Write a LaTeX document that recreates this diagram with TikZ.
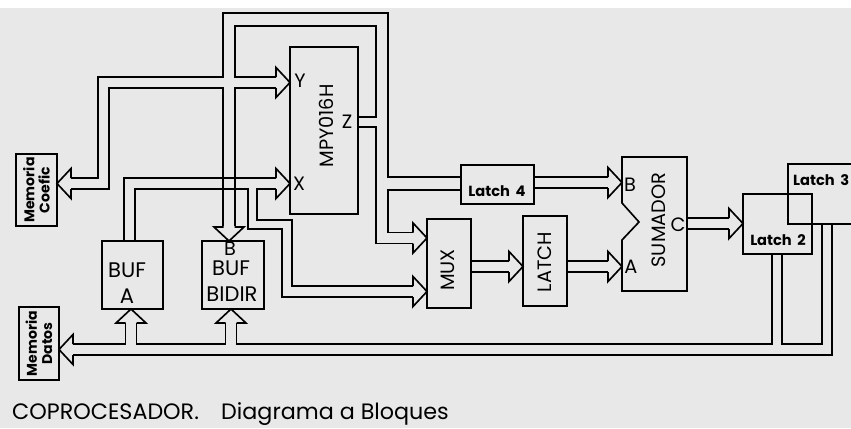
\documentclass[tikz,border=0pt]{standalone}
\usepackage{fontspec}
\setmainfont{Poppins}
\begin{document}
\begin{tikzpicture}[x=0.3mm,y=-0.3mm]
\tikzset{
  pbox/.style 2 args={draw=black,line width=1.4pt,minimum width=#1*0.3mm,minimum height=#2*0.3mm,inner sep=0pt,outer sep=0pt},
  busline/.style={draw=black,line width=1.4pt,line join=miter},
  bigtext/.style={font=\fontsize{16.5}{18}\selectfont,inner sep=0pt},
  buftext/.style={font=\fontsize{18}{20}\selectfont,inner sep=0pt},
  pintext/.style={font=\fontsize{16.5}{18}\selectfont,inner sep=0pt},
  latchtext/.style={font=\fontsize{12.5}{14}\selectfont\bfseries,inner sep=0pt},
  memtext/.style={font=\fontsize{12}{13}\selectfont\bfseries,inner sep=0pt,align=center},
  headright/.pic={\draw[busline] (-14,-5.5) -- (-14,-15) -- (0,0) -- (-14,15) -- (-14,5.5);}
}
\fill[white] (0,0) rectangle (851,428);
\fill[black!9] (0,8) rectangle (851,428);
\useasboundingbox (0,0) rectangle (851,428);
% blocks
\node[pbox={41}{72}] (n_memcoef) at (36.5,190) {};
\node[pbox={40}{73}] (n_memdat) at (39,343.5) {};
\node[pbox={68}{167}] (n_mpy) at (324,130.5) {};
\node[pbox={61}{68}] (n_bufa) at (132.5,275) {};
\node[pbox={62}{68}] (n_bufbidir) at (233,275) {};
\node[pbox={73}{39}] (n_lat4) at (497.5,184.5) {};
\node[pbox={44}{89}] (n_mux) at (449,263.5) {};
\node[pbox={44}{90}] (n_latch) at (545,261) {};
\node[pbox={69}{60}] (n_lat2) at (777.5,224) {};
\node[pbox={78}{60}] (n_lat3) at (827,194) {};
\draw[busline] (622,157) -- (687,157) -- (687,291) -- (622,291) -- (622,240) -- (639,222) -- (622,203) -- cycle;
% texts
\node[memtext,rotate=90] (t_memcoef) at (n_memcoef) {Memoria\\Coefic};
\node[memtext,rotate=90] (t_memdat) at (n_memdat) {Memoria\\Datos};
\node[bigtext,rotate=90] (t_mpy) at (326,126) {MPY016H};
\node[pintext] (t_y) at (300,81) {Y};
\node[pintext] (t_x) at (299,184) {X};
\node[pintext] (t_z) at (347,122) {Z};
\node[buftext] (t_bufa1) at (127,270) {BUF};
\node[buftext] (t_bufa2) at (127,296) {A};
\node[pintext] (t_bufb) at (230,249) {B};
\node[buftext] (t_bufb1) at (231,268) {BUF};
\node[buftext] (t_bufb2) at (232,294) {BIDIR};
\node[latchtext] (t_lat4) at (497,191) {Latch\, 4};
\node[bigtext,rotate=90] (t_mux) at (448,270) {MUX};
\node[bigtext,rotate=90] (t_latch) at (545,262) {LATCH};
\node[bigtext,rotate=90] (t_sum) at (659,220) {SUMADOR};
\node[pintext] (t_sb) at (630,185) {B};
\node[pintext] (t_sa) at (631,267) {A};
\node[pintext] (t_sc) at (678,225) {C};
\node[latchtext] (t_lat2) at (778,240) {Latch\, 2};
\node[latchtext,anchor=west] (t_lat3) at (793,180) {Latch\, 3};
\node[font=\fontsize{19}{21}\selectfont,anchor=base west,inner sep=0pt] (t_title) at (12,419) {COPROCESADOR.\quad Diagrama a Bloques};
% Y bus, Z loop and B bus
\draw[busline] (71,178) -- (98,178) -- (98,77) -- (223,77) -- (223,13) -- (388,13) -- (388,177) -- (n_lat4.west |- 0,177);
\draw[busline] (71,189) -- (109,189) -- (109,88) -- (223,88) -- (223,226);
\draw[busline] (276,88) -- (235,88) -- (235,226);
\draw[busline] (276,77) -- (235,77) -- (235,26) -- (376,26) -- (376,117) -- (n_mpy.east |- 0,117);
\draw[busline] (n_mpy.east |- 0,127) -- (376,127) -- (376,243.5) -- (413,243.5);
\draw[busline] (n_lat4.west |- 0,190) -- (388,190) -- (388,232.5) -- (413,232.5);
\pic at (n_mpy.west |- 0,82.5) {headright};
\pic[rotate=180] at (n_memcoef.east |- 0,183.5) {headright};
\pic[rotate=-90] at (n_bufbidir.north -| 229,0) {headright};
% X bus
\draw[busline] (n_bufa.north -| 124,0) -- (124,178) -- (276,178);
\draw[busline] (n_bufa.north -| 135,0) -- (135,189) -- (248,189) -- (248,229) -- (282,229) -- (282,297) -- (413,297);
\draw[busline] (276,189) -- (257,189) -- (257,220) -- (292,220) -- (292,286) -- (413,286);
\pic at (n_mpy.west |- 0,183.5) {headright};
\pic at (n_mux.west |- 0,238) {headright};
\pic at (n_mux.west |- 0,291.5) {headright};
% MUX, LATCH, SUMADOR, Latch 2
\draw[busline] (n_mux.east |- 0,261) -- (509,261);
\draw[busline] (n_mux.east |- 0,272) -- (509,272);
\pic at (n_latch.west |- 0,266.5) {headright};
\draw[busline] (n_latch.east |- 0,261) -- (608,261);
\draw[busline] (n_latch.east |- 0,272) -- (608,272);
\pic at (622,266.5) {headright};
\draw[busline] (n_lat4.east |- 0,177) -- (608,177);
\draw[busline] (n_lat4.east |- 0,188) -- (608,188);
\pic at (622,182.5) {headright};
\draw[busline] (687,218) -- (729,218);
\draw[busline] (687,229) -- (729,229);
\pic at (n_lat2.west |- 0,223.5) {headright};
% data bus
\pic[rotate=90] at (n_bufa.south -| 131,0) {headright};
\pic[rotate=90] at (n_bufbidir.south -| 231,0) {headright};
\pic[rotate=180] at (n_memdat.east |- 0,349.5) {headright};
\draw[busline] (73,344) -- (125.5,344) -- (125.5,323);
\draw[busline] (136.5,323) -- (136.5,344) -- (225.5,344) -- (225.5,323);
\draw[busline] (236.5,323) -- (236.5,344) -- (772,344) -- (n_lat2.south -| 772,0);
\draw[busline] (73,355) -- (832,355) -- (n_lat3.south -| 832,0);
\draw[busline] (n_lat2.south -| 782,0) -- (782,344) -- (822,344) -- (n_lat3.south -| 822,0);
\end{tikzpicture}
\end{document}
